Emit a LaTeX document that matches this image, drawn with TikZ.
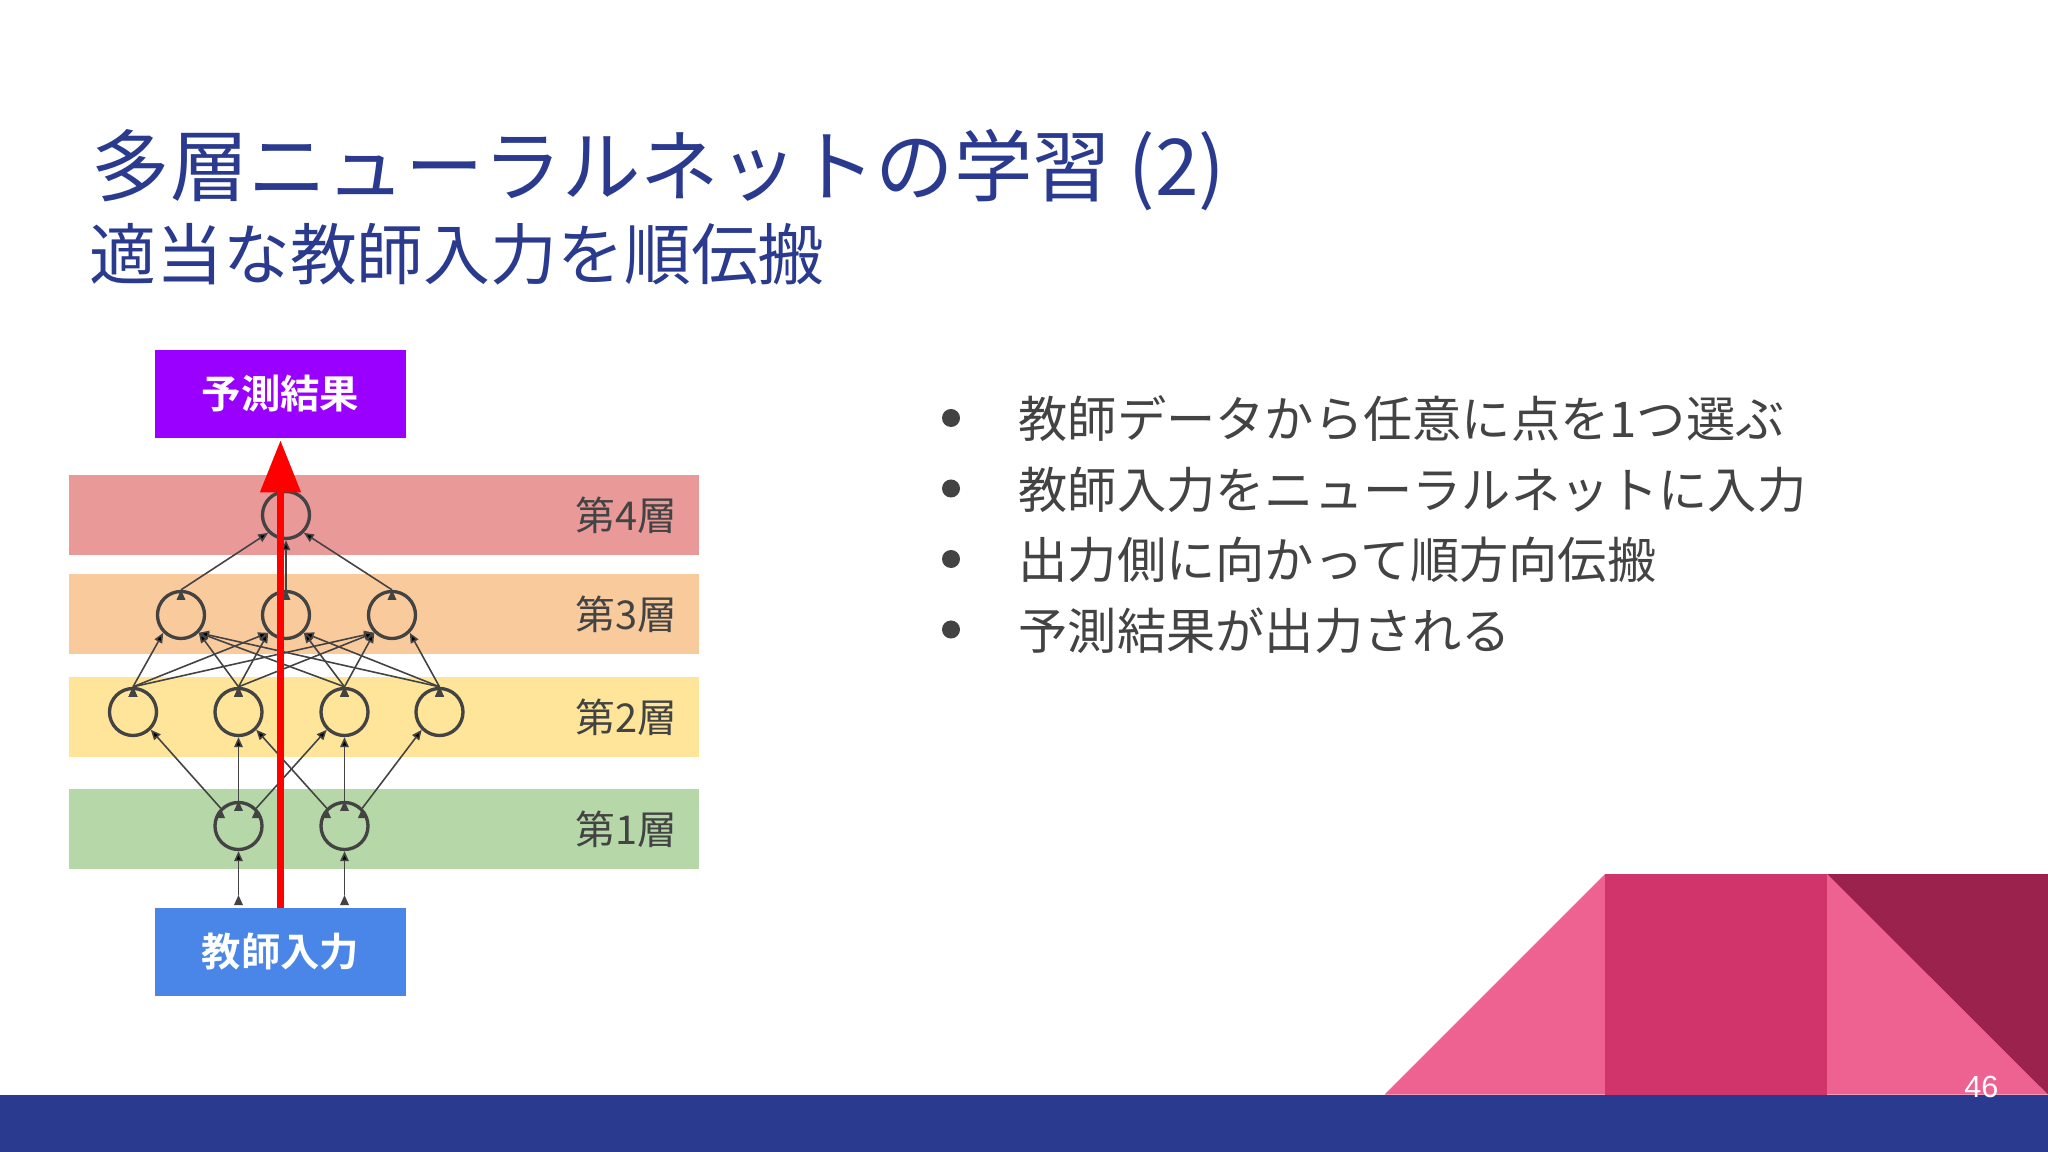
\documentclass[tikz,border=0pt]{standalone}
\usepackage{fontspec}
\setmainfont{Noto Sans CJK JP}[BoldFont={Noto Sans CJK JP Bold}]
\newfontfamily\numfont{Liberation Sans}
\usetikzlibrary{arrows.meta}

\definecolor{deckblue}{HTML}{2A3A8E}
\definecolor{netgray}{HTML}{434343}
\definecolor{predpurple}{HTML}{9900FF}
\definecolor{inblue}{HTML}{4A86E8}
\definecolor{bandred}{HTML}{EA9999}
\definecolor{bandorange}{HTML}{F9CB9C}
\definecolor{bandyellow}{HTML}{FFE599}
\definecolor{bandgreen}{HTML}{B6D7A8}
\definecolor{lightpink}{HTML}{EE6292}
\definecolor{midpink}{HTML}{D0346B}
\definecolor{darkpink}{HTML}{9C224E}

\begin{document}
\begin{tikzpicture}[x=0.01cm, y=-0.01cm,
    neuron/.style={circle, draw=netgray, line width=0.95pt, minimum size=0.47cm, inner sep=0pt},
    link/.style={draw=netgray, line width=0.45pt, -{Triangle[length=1mm, width=0.85mm]}},
    layertext/.style={anchor=east, inner sep=0pt, text=netgray, font=\fontsize{11.3pt}{13pt}\selectfont},
    slidebox/.style={minimum width=2.51cm, minimum height=0.87cm, inner sep=0pt, text=white, font=\fontsize{11.2pt}{13pt}\selectfont\bfseries},
    point/.style={anchor=base west, inner sep=0pt, text=netgray, font=\fontsize{14pt}{16pt}\selectfont},
    dot/.style={circle, fill=netgray, minimum size=0.18cm, inner sep=0pt}]
    \useasboundingbox (0,0) rectangle (2048,1152);
    \fill[white] (0,0) rectangle (2048,1152);
    % corner decoration and footer
    \fill[lightpink] (1384.5,1094.5) -- (1605,874) -- (1605,1094.5) -- cycle;
    \fill[midpink] (1605,874) rectangle (1827,1094.5);
    \fill[lightpink] (1827,874) -- (2048,1094.5) -- (1827,1094.5) -- cycle;
    \fill[darkpink] (1827,874) -- (2048,874) -- (2048,1094.5) -- cycle;
    \fill[deckblue] (0,1094.5) rectangle (2048,1152);
    \node [anchor=base east, inner sep=0pt, text=white, font=\numfont\fontsize{8.7pt}{10pt}\selectfont] (page) at (1999,1097) {46};
    % title
    \node [anchor=base west, inner sep=0pt, text=deckblue, font=\fontsize{22.3pt}{26pt}\selectfont] (title) at (91,196) {多層ニューラルネットの学習 (2)};
    \node [anchor=base west, inner sep=0pt, text=deckblue, font=\fontsize{19pt}{23pt}\selectfont] (subtitle) at (89,280) {適当な教師入力を順伝搬};
    % layer bands
    \fill[bandred] (69,475) rectangle (699,555);
    \fill[bandorange] (69,574) rectangle (699,654);
    \fill[bandyellow] (69,677) rectangle (699,757);
    \fill[bandgreen] (69,789) rectangle (699,869);
    \node [layertext] (lab4) at (678,515) {第4層};
    \node [layertext] (lab3) at (678,614) {第3層};
    \node [layertext] (lab2) at (678,717) {第2層};
    \node [layertext] (lab1) at (678,829) {第1層};
    % neurons
    \node [neuron] (out) at (286,515) {};
    \node [neuron] (h3a) at (181,615) {};
    \node [neuron] (h3b) at (286,615) {};
    \node [neuron] (h3c) at (392,615) {};
    \node [neuron] (h2a) at (133,712) {};
    \node [neuron] (h2b) at (238.5,712) {};
    \node [neuron] (h2c) at (344.5,712) {};
    \node [neuron] (h2d) at (439.5,712) {};
    \node [neuron] (in1) at (238.5,826) {};
    \node [neuron] (in2) at (344.5,826) {};
    \coordinate (feed1) at (238.5,895);
    \coordinate (feed2) at (344.5,895);
    % connections
    \path[link] (feed1) edge (in1.south);
    \path[link] (feed2) edge (in2.south);
    \path[link] (in1.north west) edge (h2a.south east);
    \path[link] (in1.north) edge (h2b.south);
    \path[link] (in1.north east) edge (h2c.south west);
    \path[link] (in2.north west) edge (h2b.south east);
    \path[link] (in2.north) edge (h2c.south);
    \path[link] (in2.north east) edge (h2d.south west);
    \path[link] (h2a.north) edge (h3a.south west);
    \path[link] (h2a.north) edge (h3b.south west);
    \path[link] (h2a.north) edge (h3c.south west);
    \path[link] (h2b.north) edge (h3a.south east);
    \path[link] (h2b.north) edge (h3b.south west);
    \path[link] (h2b.north) edge (h3c.south west);
    \path[link] (h2c.north) edge (h3a.south east);
    \path[link] (h2c.north) edge (h3b.south east);
    \path[link] (h2c.north) edge (h3c.south west);
    \path[link] (h2d.north) edge (h3a.south east);
    \path[link] (h2d.north) edge (h3b.south east);
    \path[link] (h2d.north) edge (h3c.south east);
    \path[link] (h3a.north) edge (out.south west);
    \path[link] (h3b.north) edge (out.south);
    \path[link] (h3c.north) edge (out.south east);
    % input and prediction boxes
    \node [slidebox, fill=predpurple] (pred) at (280.5,394) {予測結果};
    \node [slidebox, fill=inblue] (teach) at (280.5,952) {教師入力};
    \draw[red, line width=2.1pt, -{Triangle[length=5.2mm, width=3.9mm]}, shorten >=0.02cm] (teach.north) -- (pred.south);
    % bullet list
    \node [dot] (dot1) at (951,418) {};
    \node [dot] (dot2) at (951,488.5) {};
    \node [dot] (dot3) at (951,559) {};
    \node [dot] (dot4) at (951,629.5) {};
    \node [point] (item1) at (1018,438) {教師データから任意に点を1つ選ぶ};
    \node [point] (item2) at (1018,508.5) {教師入力をニューラルネットに入力};
    \node [point] (item3) at (1018,579) {出力側に向かって順方向伝搬};
    \node [point] (item4) at (1018,649.5) {予測結果が出力される};
\end{tikzpicture}
\end{document}
